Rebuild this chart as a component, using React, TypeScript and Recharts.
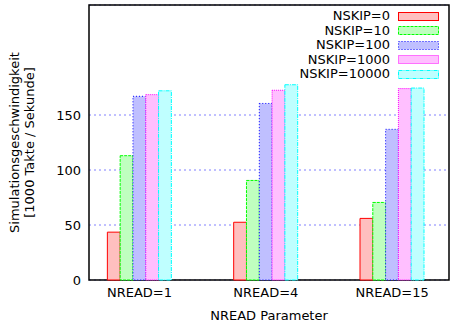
import React from "react";
import {
  BarChart,
  Bar,
  XAxis,
  YAxis,
  CartesianGrid,
  Legend,
  ReferenceArea,
  Label,
} from "recharts";

const categories = ["NREAD=1", "NREAD=4", "NREAD=15"];
const nskip0 = [43.5, 52.5, 56];
const nskip10 = [113, 90.5, 70.5];
const nskip100 = [167, 160.5, 137];
const nskip1000 = [168.5, 172.5, 174];
const nskip10000 = [172, 177.5, 174.5];
const yTicks = [0, 50, 100, 150];

const series = [
  { key: "s0", name: "NSKIP=0", values: nskip0, stroke: "#ff0000", fill: "#ffbfbf", dash: undefined },
  { key: "s10", name: "NSKIP=10", values: nskip10, stroke: "#00ff00", fill: "#bfffbf", dash: "3 1" },
  { key: "s100", name: "NSKIP=100", values: nskip100, stroke: "#0000ff", fill: "#bfbfff", dash: "1 2" },
  { key: "s1000", name: "NSKIP=1000", values: nskip1000, stroke: "#ff00ff", fill: "#ffbfff", dash: "1 1" },
  { key: "s10000", name: "NSKIP=10000", values: nskip10000, stroke: "#00ffff", fill: "#bfffff", dash: "4 1 1 1" },
];

const data = categories.map((c, i) => {
  const row: Record<string, number | string> = { pos: i, name: c };
  series.forEach((s) => {
    row[s.key] = s.values[i];
  });
  return row;
});

const font = "'DejaVu Sans', sans-serif";

const LegendBox = () => (
  <div style={{ fontFamily: font, fontSize: 13, color: "#000" }}>
    {series.map((s) => (
      <div
        key={s.key}
        style={{
          height: 14.5,
          display: "flex",
          justifyContent: "flex-end",
          alignItems: "center",
        }}
      >
        <span style={{ lineHeight: "14px" }}>{s.name}</span>
        <svg width={41} height={9} style={{ marginLeft: 8, marginRight: 11 }}>
          <rect
            x={0.5}
            y={0.5}
            width={40}
            height={8}
            fill={s.fill}
            stroke={s.stroke}
            strokeDasharray={s.dash}
          />
        </svg>
      </div>
    ))}
  </div>
);

const YLabel = (props: any) => {
  const vb = props.viewBox || { x: 0, y: 5, height: 275 };
  const cy = vb.y + vb.height / 2;
  return (
    <g fontFamily={font} fontSize={13} fill="#000">
      <text x={14} y={cy} transform={`rotate(-90, 14, ${cy})`} textAnchor="middle" dominantBaseline="central">
        Simulationsgeschwindigkeit
      </text>
      <text x={29} y={cy} transform={`rotate(-90, 29, ${cy})`} textAnchor="middle" dominantBaseline="central">
        [1000 Takte / Sekunde]
      </text>
    </g>
  );
};

export default function App() {
  return (
    <div style={{ width: 450, height: 322, position: "relative" }}>
      <style>{`body{margin:0;}`}</style>
      <BarChart
        width={450}
        height={322}
        data={data}
        margin={{ top: 5, right: 1, left: 0, bottom: 0 }}
        barGap={0}
        barSize={12.8}
      >
        <CartesianGrid vertical={false} stroke="#8080ff" strokeDasharray="2 3" />
        <XAxis
          type="number"
          dataKey="pos"
          domain={[-0.4, 2.45]}
          ticks={[0, 1, 2]}
          allowDataOverflow
          tickFormatter={(v: number) => categories[v]}
          axisLine={false}
          tickLine={false}
          height={42}
          tick={{ fill: "#000", fontSize: 13, fontFamily: font }}
        >
          <Label
            value="NREAD Parameter"
            position="insideBottom"
            offset={2}
            style={{ fill: "#000", fontSize: 13, fontFamily: font }}
          />
        </XAxis>
        <YAxis
          type="number"
          domain={[0, 250]}
          ticks={yTicks}
          width={89}
          axisLine={false}
          tickLine={false}
          tick={{ fill: "#000", fontSize: 13, fontFamily: font }}
        >
          <Label content={<YLabel />} />
        </YAxis>
        <Legend
          layout="vertical"
          align="center"
          verticalAlign="middle"
          content={<LegendBox />}
          wrapperStyle={{ left: 250, top: 9, width: 200 }}
        />
        {series.map((s) => (
          <Bar
            key={s.key}
            dataKey={s.key}
            name={s.name}
            fill={s.fill}
            stroke={s.stroke}
            strokeWidth={1}
            strokeDasharray={s.dash}
            isAnimationActive={false}
          />
        ))}
        <ReferenceArea
          x1={-0.4}
          x2={2.45}
          y1={0}
          y2={250}
          fill="none"
          stroke="#000"
          strokeWidth={1.5}
          ifOverflow="visible"
        />
      </BarChart>
    </div>
  );
}
